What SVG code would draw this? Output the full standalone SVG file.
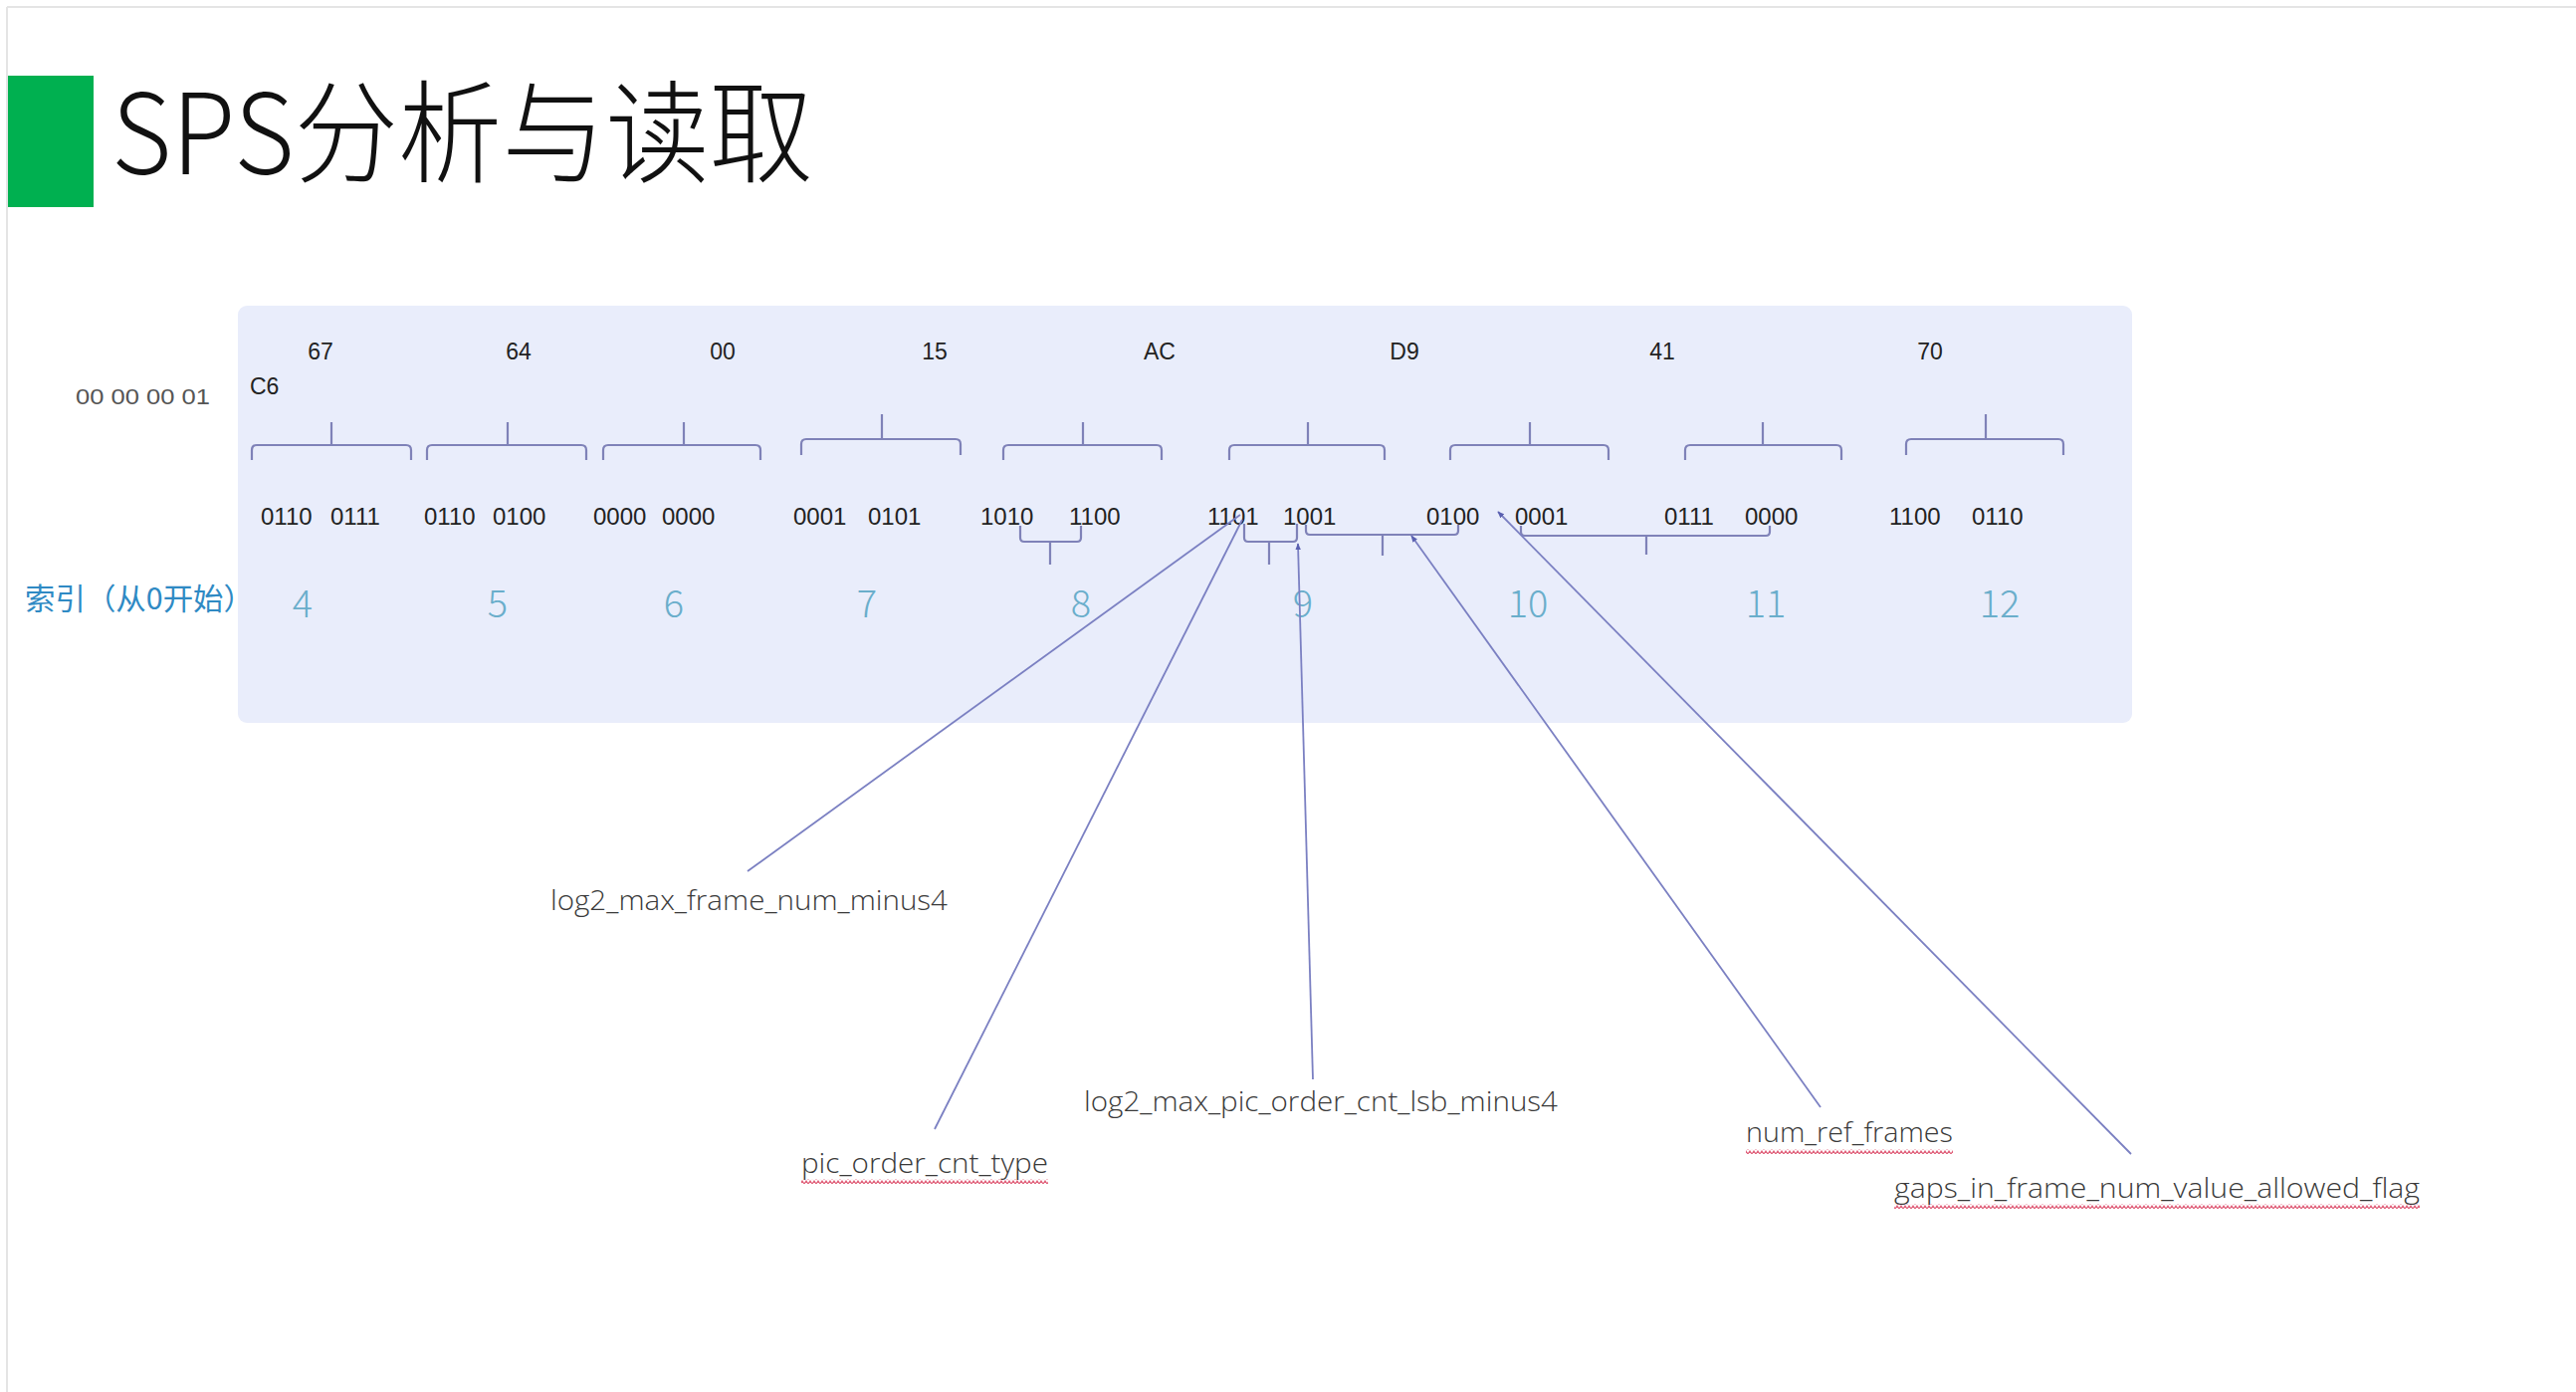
<svg xmlns="http://www.w3.org/2000/svg" width="2588" height="1398" viewBox="0 0 2588 1398">
<style>
.hex{font-family:"Liberation Sans",Arial,sans-serif;font-size:23px;fill:#222;text-anchor:middle}
.bin{font-family:"Liberation Sans",Arial,sans-serif;font-size:24px;fill:#222}
.idx{font-family:"Noto Sans CJK SC","Noto Sans",sans-serif;font-weight:300;font-size:38px;fill:#6aaecb;text-anchor:middle}
.lbl{font-family:"Open Sans","Noto Sans",sans-serif;font-weight:300;font-size:28px;fill:#3a3a3a}
.br{fill:none;stroke:#7f82b8;stroke-width:2.2;stroke-linejoin:round}
.cn{fill:none;stroke:#7b80c2;stroke-width:1.8}
</style>
<defs>
<marker id="arr" viewBox="0 0 10 10" refX="9" refY="5" markerWidth="7" markerHeight="7" orient="auto" markerUnits="userSpaceOnUse">
<path d="M0,1 L10,5 L0,9 z" fill="#5a60b0"/>
</marker>
<pattern id="wave" width="8" height="5" patternUnits="userSpaceOnUse">
<path d="M0,4 L2,1 L4,4 L6,1 L8,4" fill="none" stroke="#e0607a" stroke-width="1.2"/>
</pattern>
</defs>
<rect width="2588" height="1398" fill="#ffffff"/>
<line x1="7" y1="7" x2="2588" y2="7" stroke="#e4e4e4" stroke-width="2"/>
<line x1="7" y1="7" x2="7" y2="1398" stroke="#e4e4e4" stroke-width="2"/>

<g id="title">
<rect x="8" y="76" width="86" height="132" fill="#00b050"/>
<text x="112" y="175" font-family="'Noto Sans CJK SC','Noto Sans',sans-serif" font-weight="300" font-size="112" fill="#111" textLength="705" lengthAdjust="spacingAndGlyphs">SPS分析与读取</text>
</g>

<g id="panel">
<rect x="239" y="307" width="1903" height="419" rx="9" fill="#e9edfb"/>
</g>

<g id="start-code">
<text x="76" y="406" font-family="'Liberation Sans',Arial,sans-serif" font-size="22" fill="#555" textLength="135" lengthAdjust="spacingAndGlyphs">00 00 00 01</text>
<text x="251" y="396" font-family="'Liberation Sans',Arial,sans-serif" font-size="23" fill="#222">C6</text>
</g>

<g id="hex-bytes">
<text class="hex" x="322" y="361">67</text>
<text class="hex" x="521" y="361">64</text>
<text class="hex" x="726" y="361">00</text>
<text class="hex" x="939" y="361">15</text>
<text class="hex" x="1165" y="361">AC</text>
<text class="hex" x="1411" y="361">D9</text>
<text class="hex" x="1670" y="361">41</text>
<text class="hex" x="1939" y="361">70</text>
</g>

<g id="byte-braces">
<path class="br" d="M253,462 L253,452 Q253,447 258,447 L408,447 Q413,447 413,452 L413,462 M333,447 L333,424"/>
<path class="br" d="M429,462 L429,452 Q429,447 434,447 L584,447 Q589,447 589,452 L589,462 M510,447 L510,424"/>
<path class="br" d="M606,462 L606,452 Q606,447 611,447 L759,447 Q764,447 764,452 L764,462 M687,447 L687,424"/>
<path class="br" d="M805,457 L805,446 Q805,441 810,441 L960,441 Q965,441 965,446 L965,457 M886,441 L886,416"/>
<path class="br" d="M1008,462 L1008,452 Q1008,447 1013,447 L1162,447 Q1167,447 1167,452 L1167,462 M1088,447 L1088,424"/>
<path class="br" d="M1235,462 L1235,452 Q1235,447 1240,447 L1386,447 Q1391,447 1391,452 L1391,462 M1314,447 L1314,424"/>
<path class="br" d="M1457,462 L1457,452 Q1457,447 1462,447 L1611,447 Q1616,447 1616,452 L1616,462 M1537,447 L1537,424"/>
<path class="br" d="M1693,462 L1693,452 Q1693,447 1698,447 L1845,447 Q1850,447 1850,452 L1850,462 M1771,447 L1771,424"/>
<path class="br" d="M1915,457 L1915,446 Q1915,441 1920,441 L2068,441 Q2073,441 2073,446 L2073,457 M1995,441 L1995,416"/>
</g>

<g id="binary">
<text class="bin" x="262" y="527">0110</text><text class="bin" x="332" y="527">0111</text>
<text class="bin" x="426" y="527">0110</text><text class="bin" x="495" y="527">0100</text>
<text class="bin" x="596" y="527">0000</text><text class="bin" x="665" y="527">0000</text>
<text class="bin" x="797" y="527">0001</text><text class="bin" x="872" y="527">0101</text>
<text class="bin" x="985" y="527">1010</text><text class="bin" x="1074" y="527">1100</text>
<text class="bin" x="1213" y="527">1101</text><text class="bin" x="1289" y="527">1001</text>
<text class="bin" x="1433" y="527">0100</text><text class="bin" x="1522" y="527">0001</text>
<text class="bin" x="1672" y="527">0111</text><text class="bin" x="1753" y="527">0000</text>
<text class="bin" x="1898" y="527">1100</text><text class="bin" x="1981" y="527">0110</text>
</g>

<g id="field-braces">
<path class="br" d="M1025,528 L1025,540 Q1025,544 1029,544 L1082,544 Q1086,544 1086,540 L1086,528 M1055,544 L1055,567"/>
<path class="br" d="M1250,526 L1250,540 Q1250,544 1254,544 L1299,544 Q1303,544 1303,540 L1303,526 M1275,544 L1275,567"/>
<path class="br" d="M1312,527 L1312,533 Q1312,537 1316,537 L1461,537 Q1465,537 1465,533 L1465,527 M1389,537 L1389,558"/>
<path class="br" d="M1528,528 L1528,534 Q1528,538 1532,538 L1774,538 Q1778,538 1778,534 L1778,528 M1654,538 L1654,557"/>
</g>

<g id="index">
<text x="25" y="612" font-family="'Noto Sans CJK SC','Noto Sans',sans-serif" font-size="30" fill="#2f8ac4" textLength="230" lengthAdjust="spacingAndGlyphs">索引（从0开始）</text>
<text class="idx" x="304" y="620">4</text>
<text class="idx" x="500" y="620">5</text>
<text class="idx" x="677" y="620">6</text>
<text class="idx" x="871" y="620">7</text>
<text class="idx" x="1086" y="620">8</text>
<text class="idx" x="1309" y="620">9</text>
<text class="idx" x="1535" y="620">10</text>
<text class="idx" x="1774" y="620">11</text>
<text class="idx" x="2009" y="620">12</text>
</g>

<g id="connectors">
<path class="cn" d="M751,875 L1246,517"/>
<path class="cn" d="M939,1134 L1248,522"/>
<path class="cn" d="M1319,1084 L1304,546" marker-end="url(#arr)"/>
<path class="cn" d="M1829,1112 L1418,538" marker-end="url(#arr)"/>
<path class="cn" d="M2141,1159 L1505,514" marker-end="url(#arr)"/>
</g>

<g id="label-log2_max_frame_num_minus4">
<text class="lbl" x="553" y="914" textLength="399" lengthAdjust="spacingAndGlyphs">log2_max_frame_num_minus4</text>
</g>
<g id="label-pic_order_cnt_type">
<text class="lbl" x="805" y="1178" textLength="248" lengthAdjust="spacingAndGlyphs">pic_order_cnt_type</text>
<rect x="805" y="1184" width="248" height="5" fill="url(#wave)"/>
</g>
<g id="label-log2_max_pic_order_cnt_lsb_minus4">
<text class="lbl" x="1089" y="1116" textLength="476" lengthAdjust="spacingAndGlyphs">log2_max_pic_order_cnt_lsb_minus4</text>
</g>
<g id="label-num_ref_frames">
<text class="lbl" x="1754" y="1147" textLength="208" lengthAdjust="spacingAndGlyphs">num_ref_frames</text>
<rect x="1754" y="1154" width="208" height="5" fill="url(#wave)"/>
</g>
<g id="label-gaps_in_frame_num_value_allowed_flag">
<text class="lbl" x="1903" y="1203" textLength="528" lengthAdjust="spacingAndGlyphs">gaps_in_frame_num_value_allowed_flag</text>
<rect x="1903" y="1209" width="528" height="5" fill="url(#wave)"/>
</g>
</svg>
